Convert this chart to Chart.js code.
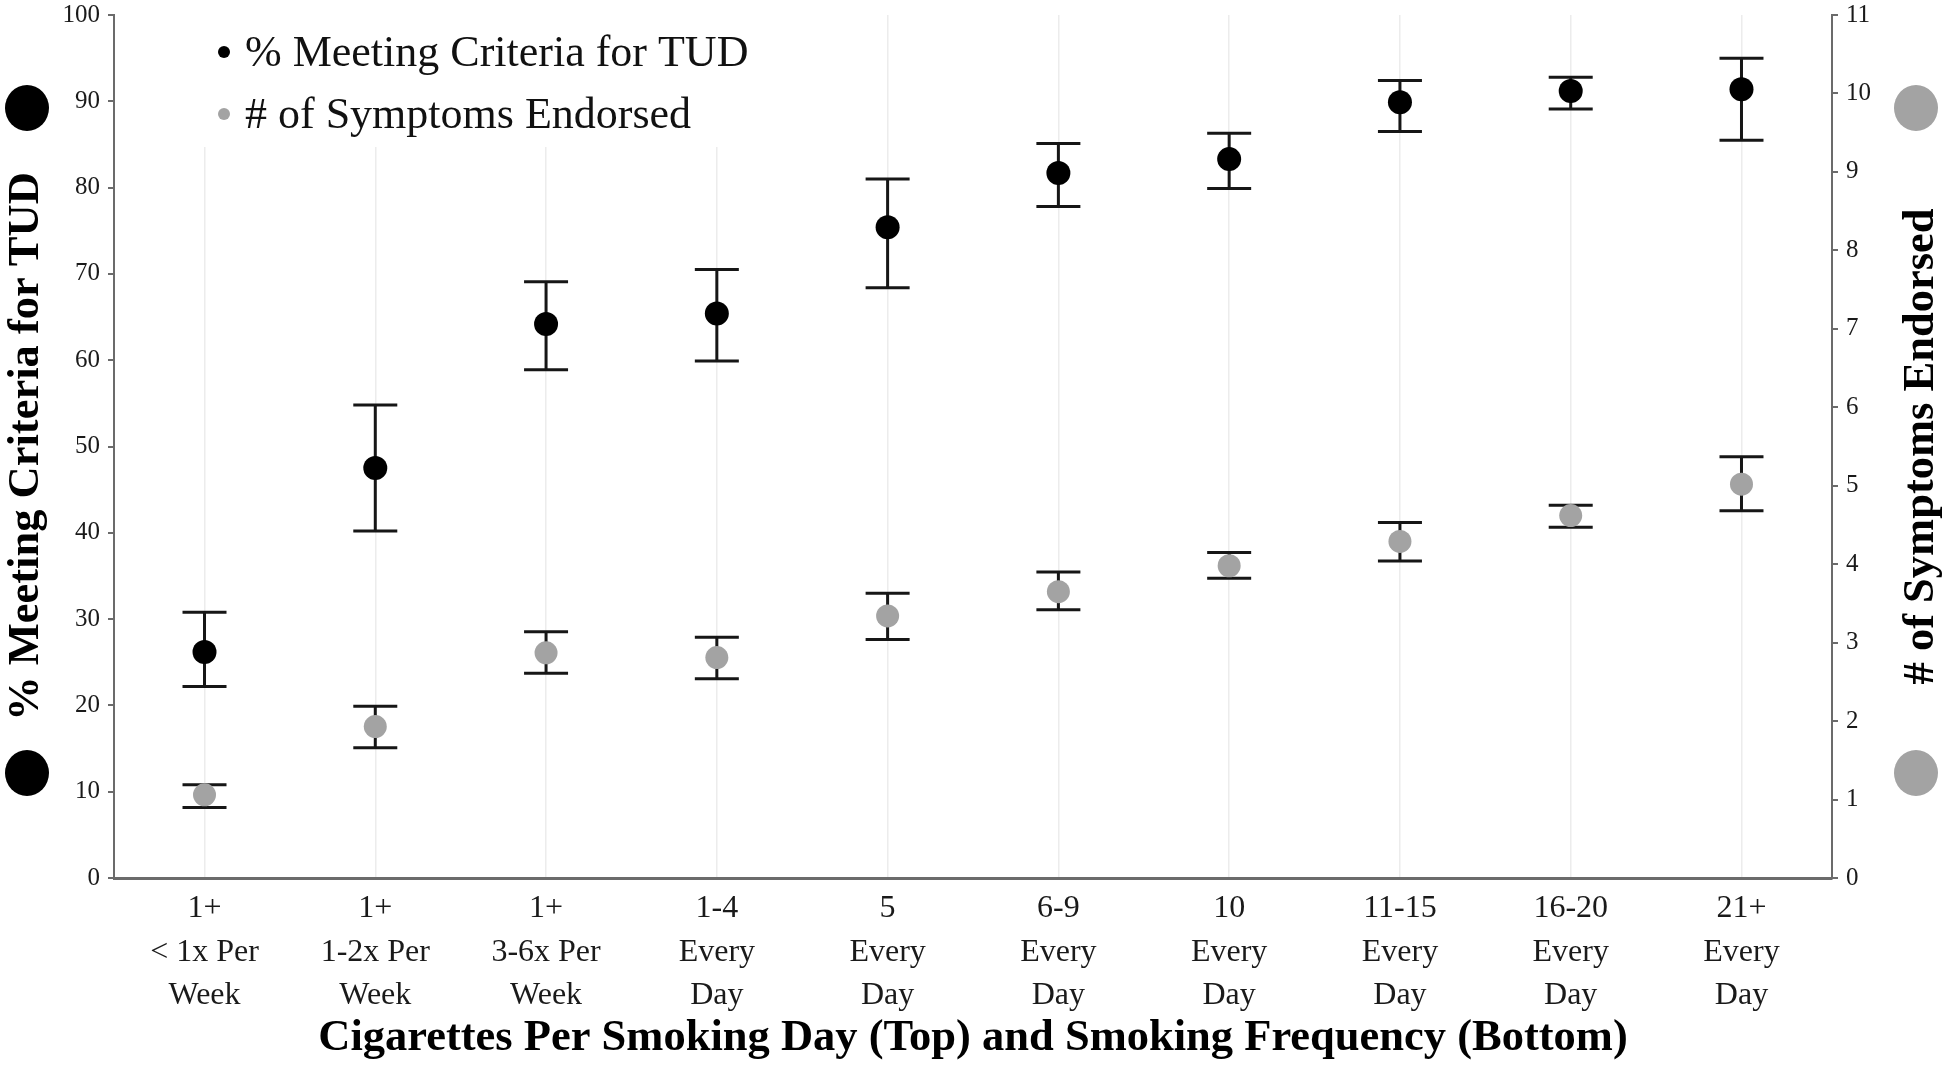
<!DOCTYPE html>
<html>
<head>
<meta charset="utf-8">
<script src="https://cdn.jsdelivr.net/npm/chart.js@4/dist/chart.umd.min.js"></script>
<style>
  html, body { margin: 0; padding: 0; background: #fff; }
  #wrap { width: 1950px; height: 1080px; }
</style>
</head>
<body>
<div id="wrap"><canvas id="c" width="1950" height="1080"></canvas></div>
<script>
// ---- data ----
const categories = [
  ["1+", "< 1x Per", "Week"],
  ["1+", "1-2x Per", "Week"],
  ["1+", "3-6x Per", "Week"],
  ["1-4", "Every", "Day"],
  ["5", "Every", "Day"],
  ["6-9", "Every", "Day"],
  ["10", "Every", "Day"],
  ["11-15", "Every", "Day"],
  ["16-20", "Every", "Day"],
  ["21+", "Every", "Day"]
];
const tudLabel = "% Meeting Criteria for TUD";
const tudMean = [26.2, 47.5, 64.2, 65.4, 75.4, 81.7, 83.3, 89.9, 91.2, 91.4];
const tudLow  = [22.2, 40.2, 58.9, 59.9, 68.4, 77.8, 79.9, 86.5, 89.1, 85.5];
const tudHigh = [30.8, 54.8, 69.1, 70.5, 81.0, 85.1, 86.3, 92.4, 92.8, 95.0];

const symLabel = "# of Symptoms Endorsed";
const symMean = [1.06, 1.93, 2.87, 2.81, 3.34, 3.65, 3.98, 4.29, 4.62, 5.02];
const symLow  = [0.90, 1.66, 2.61, 2.54, 3.04, 3.42, 3.82, 4.04, 4.47, 4.68];
const symHigh = [1.19, 2.19, 3.14, 3.07, 3.63, 3.90, 4.15, 4.53, 4.75, 5.37];

const leftTicks = { min: 0, max: 100, step: 10 };
const rightTicks = { min: 0, max: 11, step: 1 };
const xTitle = "Cigarettes Per Smoking Day (Top) and Smoking Frequency (Bottom)";

// ---- styles ----
const SERIF = '"Liberation Serif", "Times New Roman", serif';
const BLACK = '#000000';
const GRAY = '#a3a3a3';
const AXIS = '#6b6b6b';
const TITLE_FONT = { family: SERIF, size: 44.5, weight: 'bold', lineHeight: 1.2 };
const X_PAD = 0.53; // category padding at both ends (in category units)

const decor = {
  id: 'decor',
  beforeDatasetsDraw(chart) {
    const { ctx, chartArea: a, scales } = chart;
    ctx.save();
    // legend box (covers grid lines)
    ctx.fillStyle = '#ffffff';
    ctx.fillRect(a.left + 70, a.top, 590, 132);
    chart.data.datasets.forEach((ds, i) => {
      const y = a.top + 37 + i * 62;
      ctx.beginPath();
      ctx.arc(a.left + 110, y, 6, 0, Math.PI * 2);
      ctx.fillStyle = ds.backgroundColor;
      ctx.fill();
      ctx.fillStyle = '#111';
      ctx.font = '44px ' + SERIF;
      ctx.textBaseline = 'middle';
      ctx.textAlign = 'left';
      ctx.fillText(ds.label, a.left + 131, y + 2);
    });
    // error bars
    const xs = scales.x;
    const sets = [[tudLow, tudHigh, 'y'], [symLow, symHigh, 'y1']];
    ctx.strokeStyle = '#161616';
    ctx.lineWidth = 3;
    sets.forEach(([lo, hi, id]) => {
      const ys = scales[id];
      lo.forEach((l, i) => {
        const px = xs.getPixelForValue(i);
        const p1 = ys.getPixelForValue(l);
        const p2 = ys.getPixelForValue(hi[i]);
        const cw = 22;
        ctx.beginPath();
        ctx.moveTo(px, p1); ctx.lineTo(px, p2);
        ctx.moveTo(px - cw, p1); ctx.lineTo(px + cw, p1);
        ctx.moveTo(px - cw, p2); ctx.lineTo(px + cw, p2);
        ctx.stroke();
      });
    });
    ctx.restore();
  },
  afterDraw(chart) {
    const { ctx, chartArea: a, scales } = chart;
    ctx.save();
    // right axis title, reading bottom-to-top like the left one
    const r = scales.y1;
    ctx.translate(r.right - 29, (a.top + a.bottom) / 2);
    ctx.rotate(-Math.PI / 2);
    ctx.font = 'bold ' + TITLE_FONT.size + 'px ' + SERIF;
    ctx.fillStyle = '#000';
    ctx.textAlign = 'center';
    ctx.textBaseline = 'middle';
    ctx.fillText(symLabel, 0, 0);
    ctx.restore();

    ctx.save();
    const lx = scales.y.left + 27;
    const rx = scales.y1.right - 34;
    const yTop = a.top + 93;
    const yBot = a.bottom - 105;
    [[lx, BLACK], [rx, GRAY]].forEach(([x, col]) => {
      [yTop, yBot].forEach(y => {
        ctx.beginPath();
        ctx.ellipse(x, y, 22, 23, 0, 0, Math.PI * 2);
        ctx.fillStyle = col;
        ctx.fill();
      });
    });
    ctx.restore();
  }
};

function noVPad(s) { s.paddingTop = 0; s.paddingBottom = 0; }

new Chart(document.getElementById('c'), {
  type: 'line',
  data: {
    datasets: [
      {
        label: tudLabel,
        data: tudMean.map((v, i) => ({ x: i, y: v })),
        yAxisID: 'y',
        showLine: false,
        backgroundColor: BLACK,
        borderColor: BLACK,
        pointRadius: 12,
        pointBorderWidth: 0,
        pointHoverRadius: 12
      },
      {
        label: symLabel,
        data: symMean.map((v, i) => ({ x: i, y: v })),
        yAxisID: 'y1',
        showLine: false,
        backgroundColor: GRAY,
        borderColor: GRAY,
        pointRadius: 11.5,
        pointBorderWidth: 0,
        pointHoverRadius: 11.5
      }
    ]
  },
  options: {
    responsive: false,
    animation: false,
    devicePixelRatio: 1,
    layout: { padding: { top: 15, left: 0, right: 0, bottom: 0 } },
    plugins: { legend: { display: false }, tooltip: { enabled: false } },
    scales: {
      x: {
        type: 'linear',
        min: -X_PAD,
        max: categories.length - 1 + X_PAD,
        afterBuildTicks(s) { s.ticks = categories.map((_, i) => ({ value: i })); },
        grid: { color: '#ececec', lineWidth: 1.5, drawTicks: false },
        border: { display: true, color: AXIS, width: 3 },
        ticks: {
          callback: (v) => categories[v],
          color: '#1a1a1a',
          padding: 9,
          maxRotation: 0,
          autoSkip: false,
          font: { family: SERIF, size: 32, lineHeight: 1.36 }
        },
        title: {
          display: true,
          text: xTitle,
          color: '#000',
          font: TITLE_FONT,
          padding: { top: 0, bottom: 15 }
        },
        afterFit(s) { s.height = 202; s.paddingLeft = 0; s.paddingRight = 0; }
      },
      y: {
        position: 'left',
        min: leftTicks.min,
        max: leftTicks.max,
        grid: { drawOnChartArea: false, drawTicks: true, tickLength: 6, color: AXIS, lineWidth: 2 },
        border: { display: true, color: AXIS, width: 2 },
        ticks: {
          stepSize: leftTicks.step,
          color: '#1a1a1a',
          padding: 8,
          font: { family: SERIF, size: 25 }
        },
        title: {
          display: true,
          text: tudLabel,
          color: '#000',
          font: TITLE_FONT,
          padding: { top: 0, bottom: 0 }
        },
        afterFit(s) { s.width = 114; noVPad(s); }
      },
      y1: {
        position: 'right',
        min: rightTicks.min,
        max: rightTicks.max,
        grid: { drawOnChartArea: false, drawTicks: true, tickLength: 6, color: AXIS, lineWidth: 2 },
        border: { display: true, color: AXIS, width: 2 },
        ticks: {
          stepSize: rightTicks.step,
          color: '#1a1a1a',
          padding: 8,
          font: { family: SERIF, size: 25 }
        },
        title: { display: false },
        afterFit(s) { s.width = 118; noVPad(s); }
      }
    }
  },
  plugins: [decor]
});
</script>
</body>
</html>
